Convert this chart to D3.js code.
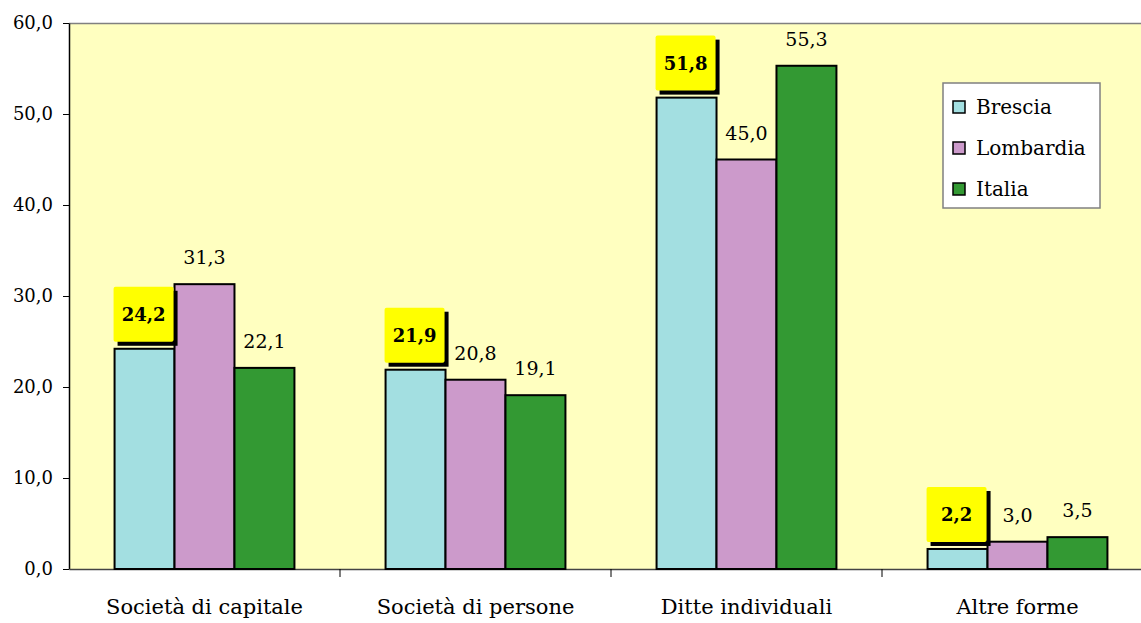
<!DOCTYPE html>
<html>
<head>
<meta charset="utf-8">
<script src="https://cdn.jsdelivr.net/npm/d3@7"></script>
<style>
  body { margin: 0; background: #fff; }
</style>
</head>
<body>
<div id="chart"></div>
<script>
const categories = ["Società di capitale", "Società di persone", "Ditte individuali", "Altre forme"];
const series = ["Brescia", "Lombardia", "Italia"];
const brescia = [24.2, 21.9, 51.8, 2.2];
const lombardia = [31.3, 20.8, 45.0, 3.0];
const italia = [22.1, 19.1, 55.3, 3.5];
const yTicks = [0, 10, 20, 30, 40, 50, 60];
const colors = ["#a3dfe1", "#cc9acb", "#339933"];

const width = 1141, height = 623;
const margin = { top: 23, right: -12, bottom: 54, left: 69 };
const serif = "DejaVu Serif";

const values = [brescia, lombardia, italia];
const data = categories.map((c, i) => ({ cat: c, vals: series.map((s, j) => ({ s, j, v: values[j][i] })) }));

const svg = d3.select("#chart").append("svg")
  .attr("width", width).attr("height", height);

const x0 = d3.scaleBand().domain(categories)
  .range([margin.left, width - margin.right]).paddingInner(0).paddingOuter(0);
const x1 = d3.scaleBand().domain(series)
  .range([0, x0.bandwidth()]).paddingInner(0).paddingOuter(0.76);
const y = d3.scaleLinear().domain([0, 60]).range([height - margin.bottom, margin.top]);

// plot background
svg.append("rect")
  .attr("x", margin.left).attr("y", y(60))
  .attr("width", width - margin.left + 20).attr("height", y(0) - y(60))
  .attr("fill", "#ffffc0");
svg.append("line")
  .attr("x1", margin.left).attr("x2", width).attr("y1", y(60) + 0.5).attr("y2", y(60) + 0.5)
  .attr("stroke", "#808080").attr("stroke-width", 1.5);

// y axis
const yAxis = svg.append("g")
  .attr("transform", `translate(${margin.left},0)`)
  .call(d3.axisLeft(y).tickValues(yTicks).tickSize(6).tickSizeOuter(0)
    .tickFormat(d => d3.format(".1f")(d).replace(".", ",")));
yAxis.select(".domain").attr("stroke", "#000").attr("stroke-width", 1.5);
yAxis.selectAll(".tick line").attr("stroke", "#000");
yAxis.selectAll(".tick text").attr("font-size", 18).attr("fill", "#000").attr("x", -16);

// x axis
const xAxis = svg.append("g")
  .attr("transform", `translate(0,${y(0)})`)
  .call(d3.axisBottom(x0).tickSize(0).tickPadding(30));
xAxis.select(".domain").attr("stroke", "#444").attr("stroke-width", 1.5);
xAxis.selectAll(".tick text").attr("font-size", 21).attr("fill", "#000");
xAxis.selectAll(".sep").data(categories.slice(1)).enter().append("line")
  .attr("x1", d => x0(d)).attr("x2", d => x0(d)).attr("y1", 0).attr("y2", 8)
  .attr("stroke", "#000");

// bars
const groups = svg.selectAll(".grp").data(data).enter().append("g")
  .attr("transform", d => `translate(${x0(d.cat)},0)`);
groups.selectAll("rect").data(d => d.vals).enter().append("rect")
  .attr("x", d => x1(d.s)).attr("y", d => y(d.v))
  .attr("width", x1.bandwidth()).attr("height", d => y(0) - y(d.v))
  .attr("fill", d => colors[d.j]).attr("stroke", "#000").attr("stroke-width", 2);

// value labels
const fmt = v => d3.format(".1f")(v).replace(".", ",");
groups.selectAll(".lbl").data(d => d.vals).enter().each(function (d) {
  const g = d3.select(this);
  const cx = x1(d.s) + x1.bandwidth() / 2;
  if (d.j === 0) {
    const bx = x1(d.s) - 1, bw = 60, bh = 55, by = y(d.v) - 7 - bh;
    g.append("rect").attr("x", bx + 4).attr("y", by + 4).attr("width", bw).attr("height", bh)
      .attr("fill", "#000");
    g.append("rect").attr("x", bx).attr("y", by).attr("width", bw).attr("height", bh)
      .attr("rx", 2).attr("fill", "#ffff00");
    g.append("text").attr("x", bx + bw / 2).attr("y", by + bh / 2 + 7)
      .attr("text-anchor", "middle").attr("font-size", 18).attr("font-weight", "bold")
      .text(fmt(d.v));
  } else {
    g.append("text").attr("x", cx).attr("y", y(d.v) - 20)
      .attr("text-anchor", "middle").attr("font-size", 19)
      .text(fmt(d.v));
  }
});

// legend
const legend = svg.append("g").attr("transform", "translate(943,83)");
legend.append("rect").attr("width", 157).attr("height", 125)
  .attr("fill", "#fff").attr("stroke", "#808080").attr("stroke-width", 1.5);
series.forEach((s, i) => {
  const ly = 24 + i * 41;
  legend.append("rect").attr("x", 10).attr("y", ly - 6).attr("width", 12).attr("height", 12)
    .attr("fill", colors[i]).attr("stroke", "#000").attr("stroke-width", 1.5);
  legend.append("text").attr("x", 33).attr("y", ly + 7).attr("font-size", 20).text(s);
});

// serif font on every text, set inline
svg.selectAll("text").style("font-family", serif);
</script>
</body>
</html>
